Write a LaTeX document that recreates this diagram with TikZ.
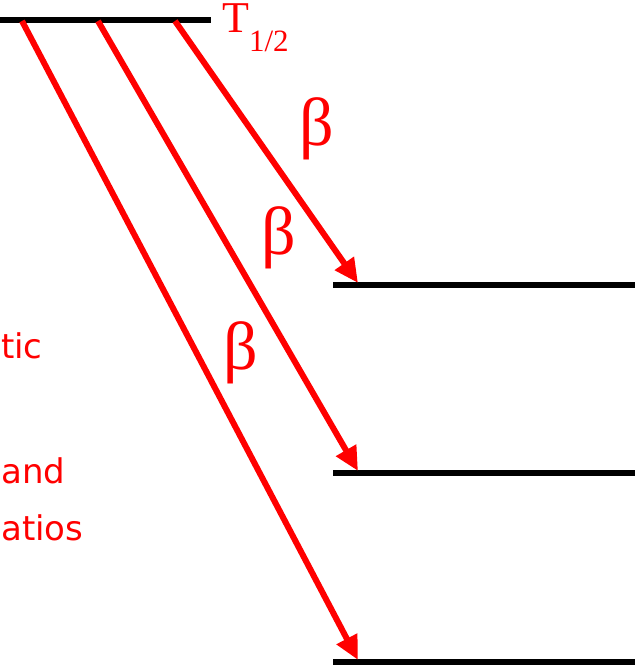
\documentclass[tikz,border=0pt]{standalone}
\usepackage{fontspec}
\setmainfont{Liberation Serif}
\newfontfamily\handfont{DejaVu Sans}
\usetikzlibrary{arrows.meta}
\definecolor{pred}{RGB}{255,0,0}
\begin{document}
\begin{tikzpicture}[x=1pt,y=-1pt,
  level/.style={line width=6pt,black},
  decay/.style={line width=6pt,pred,-{Triangle[length=24pt,width=22pt]}},
  betalbl/.style={text=pred,font=\fontsize{68}{72}\selectfont,inner sep=0pt},
  frag/.style={text=pred,font=\handfont\fontsize{34}{38}\selectfont,inner sep=0pt,anchor=base west}]
\useasboundingbox (0,0) rectangle (635,671);
% levels
\coordinate (p0) at (0,20);
\coordinate (p1) at (211,20);
\draw[level] (p0) -- (p1);
\coordinate (l1a) at (333,285); \coordinate (l1b) at (635,285);
\coordinate (l2a) at (333,473); \coordinate (l2b) at (635,473);
\coordinate (l3a) at (333,662); \coordinate (l3b) at (635,662);
\draw[level] (l1a) -- (l1b);
\draw[level] (l2a) -- (l2b);
\draw[level] (l3a) -- (l3b);
% decays
\coordinate (s1) at (175,21); \coordinate (e1) at (358,283);
\coordinate (s2) at (98,21);  \coordinate (e2) at (358,471);
\coordinate (s3) at (22,21);  \coordinate (e3) at (358,660);
\draw[decay] (s1) -- (e1);
\draw[decay] (s2) -- (e2);
\draw[decay] (s3) -- (e3);
% labels
\node[text=pred,font=\fontsize{44}{48}\selectfont,inner sep=0pt,anchor=base west] (thalf) at (222,33) {T\raisebox{-19pt}{\fontsize{31}{33}\selectfont 1/2}};
\node[betalbl] (b1) at (317,129) {β};
\node[betalbl] (b2) at (279,238) {β};
\node[betalbl] (b3) at (241,353) {β};
\node[frag] (f1) at (1,358) {tic};
\node[frag] (f2) at (1,483) {and};
\node[frag] (f3) at (1,540) {atios};
\end{tikzpicture}
\end{document}
